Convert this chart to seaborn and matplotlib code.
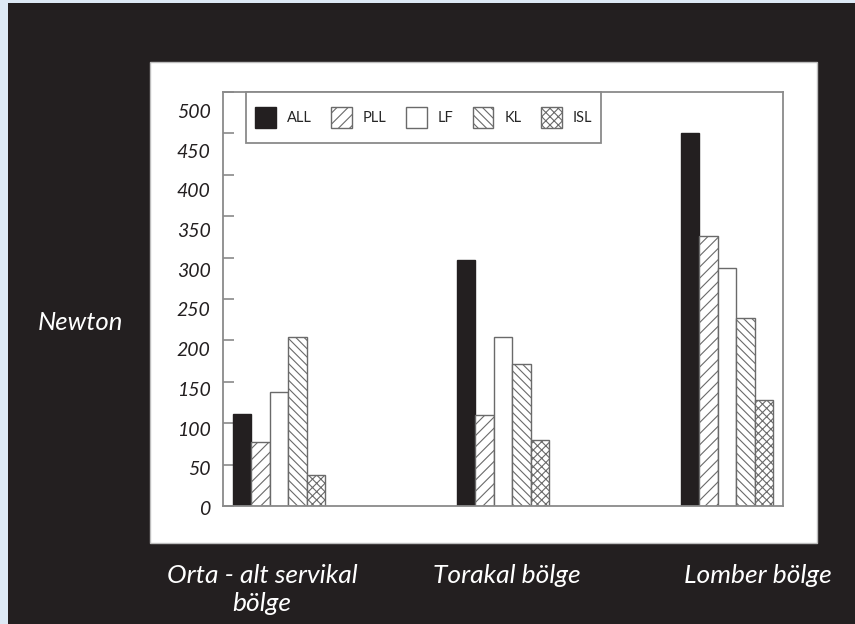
import matplotlib
matplotlib.use("Agg")
import matplotlib.pyplot as plt
import matplotlib.transforms as mtransforms
from matplotlib.patches import Rectangle, Patch
from matplotlib.legend_handler import HandlerPatch
import seaborn as sns
import pandas as pd

# ---- data ----
regions = ["Orta - alt servikal\nbölge", "Torakal bölge", "Lomber bölge"]
ligaments = ["ALL", "PLL", "LF", "KL", "ISL"]
ALL = [111, 297, 451]
PLL = [77, 110, 326]
LF = [138, 204, 287]
KL = [204, 171, 227]
ISL = [38, 80, 128]
yticks = [0, 50, 100, 150, 200, 250, 300, 350, 400, 450, 500]

values = {"ALL": ALL, "PLL": PLL, "LF": LF, "KL": KL, "ISL": ISL}
rows = []
for lig in ligaments:
    for reg, v in zip(regions, values[lig]):
        rows.append({"region": reg, "ligament": lig, "value": v})
df = pd.DataFrame(rows)

DARK = "#231f20"
GRAY = "#8a8a8a"
HATCHC = "#6a6a6a"
face = {"ALL": DARK, "PLL": "white", "LF": "white", "KL": "white", "ISL": "white"}
hatches = {"ALL": "", "PLL": "///", "LF": "", "KL": "\\\\\\\\", "ISL": "xxxx"}

sns.set_theme(style="white")
plt.rcParams["font.family"] = ["Lato", "DejaVu Sans"]
plt.rcParams["hatch.linewidth"] = 0.8

W, H = 855, 624
fig = plt.figure(figsize=(W / 100, H / 100), dpi=100)
fig.patch.set_facecolor("#dde9f5")
fig.add_artist(Rectangle((8 / W, 0), 1 - 8 / W, 1 - 3 / H, transform=fig.transFigure,
                         facecolor=DARK, edgecolor="none", zorder=-3))
fig.add_artist(Rectangle((150 / W, 1 - 543 / H), 667 / W, 481 / H, transform=fig.transFigure,
                         facecolor="white", edgecolor="#bdbdbd", linewidth=1.0, zorder=-2))

ax = fig.add_axes([223 / W, 1 - 506 / H, 560 / W, 414 / H])
ax.set_facecolor("white")

sns.barplot(data=df, x="region", y="value", hue="ligament", hue_order=ligaments,
            order=regions, palette=face, width=0.41, ax=ax, legend=False,
            edgecolor=GRAY, linewidth=1.0, saturation=1)

for lig, cont in zip(ligaments, ax.containers):
    for p in cont:
        p.set_hatch(hatches[lig])
        if lig == "ALL":
            p.set_edgecolor(DARK)
        else:
            p.set_edgecolor(HATCHC)

ax.set_xlim(-0.25, 2.25)
ax.set_ylim(0, 500)
ax.set_yticks(yticks)
ax.set_yticklabels([str(t) for t in yticks], fontstyle="italic", fontsize=14, color=DARK)
ax.tick_params(axis="y", direction="in", length=8, width=1.2, color=GRAY, pad=9, left=True)
ax.tick_params(axis="x", length=0, pad=42, labelsize=19, labelcolor="white")
# the printed labels sit slightly below their tick marks, more so higher up
for lbl, t in zip(ax.get_yticklabels(), yticks):
    dy = -(2 + 0.034 * t)
    lbl.set_transform(lbl.get_transform() + mtransforms.ScaledTranslation(0, dy / 100, fig.dpi_scale_trans))
for lbl in ax.get_xticklabels():
    lbl.set_fontstyle("italic")
    lbl.set_linespacing(1.25)
offsets = [-17, 4, 31]
for lbl, dx in zip(ax.get_xticklabels(), offsets):
    lbl.set_transform(lbl.get_transform() + mtransforms.ScaledTranslation(dx / 100, 0, fig.dpi_scale_trans))

ax.set_xlabel("")
ax.set_ylabel("")
for s in ax.spines.values():
    s.set_visible(True)
    s.set_color(GRAY)
    s.set_linewidth(1.3)

fig.text(80 / W, 1 - 322 / H, "Newton", color="white", fontsize=18.5, fontstyle="italic",
         ha="center", va="center")


def square_patch(legend, orig_handle, xdescent, ydescent, width, height, fontsize):
    side = width
    return Rectangle((-xdescent, -ydescent + (height - side) / 2), side, side)


handles = [Patch(facecolor=face[l], edgecolor=(DARK if l == "ALL" else HATCHC),
                 hatch=hatches[l], label=l, linewidth=1.0) for l in ligaments]
leg = ax.legend(handles=handles, loc="upper left", bbox_to_anchor=(23 / 560, 1.0), ncol=5,
                frameon=True, fancybox=False, fontsize=10.5, handlelength=1.4, handleheight=3.0,
                handletextpad=0.75, columnspacing=1.35, borderpad=0.65, borderaxespad=0,
                handler_map={Patch: HandlerPatch(patch_func=square_patch)})
leg.get_frame().set_edgecolor(GRAY)
leg.get_frame().set_linewidth(1.3)
leg.get_frame().set_facecolor("white")
leg.get_frame().set_alpha(1)

fig.savefig("out.png", dpi=100, facecolor=fig.get_facecolor())
